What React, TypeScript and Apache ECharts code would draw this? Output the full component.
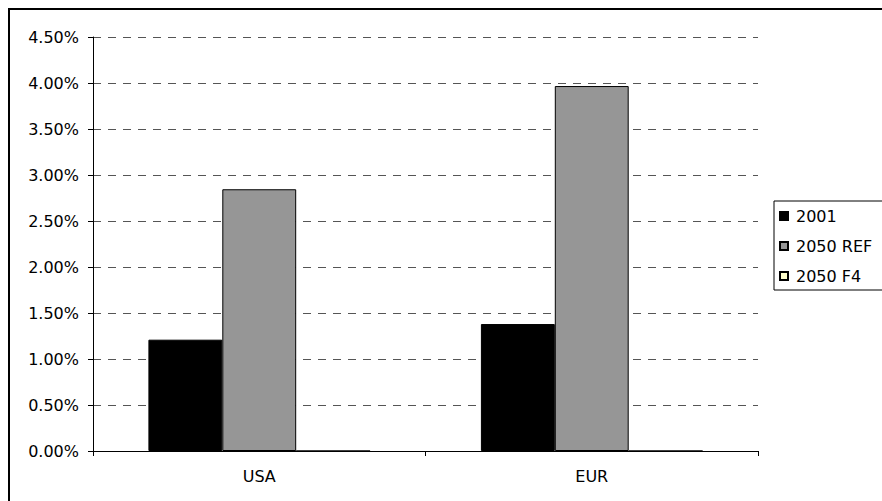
import React, { useEffect, useRef } from "react";
import * as echarts from "echarts";

const categories = ["USA", "EUR"];
const seriesNames = ["2001", "2050 REF", "2050 F4"];
const values2001 = [1.21, 1.38];
const valuesRef = [2.845, 3.967];
const valuesF4 = [0, 0];
const seriesColors = ["#000000", "#969696", "#FFFFCC"];

const FONT = "DejaVu Sans";

export default function App() {
  const ref = useRef<HTMLDivElement>(null);
  useEffect(() => {
    if (!ref.current) return;
    const chart = echarts.init(ref.current, undefined, { renderer: "svg" });
    const data = [values2001, valuesRef, valuesF4];
    chart.setOption({
      animation: false,
      backgroundColor: "#ffffff",
      textStyle: { fontFamily: FONT },
      grid: { left: 83, top: 27, width: 665, height: 414, containLabel: false },
      legend: {
        orient: "vertical",
        left: 764,
        top: 191,
        padding: [7, 50, 6, 5],
        itemGap: 14,
        itemWidth: 8,
        itemHeight: 8,
        borderColor: "#000",
        borderWidth: 1,
        backgroundColor: "#fff",
        icon: "rect",
        textStyle: { fontFamily: FONT, fontSize: 16, color: "#000", padding: [0, 0, 0, 3] },
        data: seriesNames,
      },
      xAxis: {
        type: "category",
        data: categories,
        axisLine: { lineStyle: { color: "#000", width: 1 } },
        axisTick: { show: true, length: 5, lineStyle: { color: "#000" } },
        axisLabel: { color: "#000", fontFamily: FONT, fontSize: 16, margin: 17 },
      },
      yAxis: {
        type: "value",
        min: 0,
        max: 4.5,
        interval: 0.5,
        axisLine: { show: true, lineStyle: { color: "#000", width: 1 } },
        axisTick: { show: true, length: 5, lineStyle: { color: "#000" } },
        axisLabel: {
          color: "#000",
          fontFamily: FONT,
          fontSize: 16,
          margin: 14,
          formatter: (v: number) => v.toFixed(2) + "%",
        },
        splitLine: { show: true, lineStyle: { color: "#555", type: [8, 7], width: 1 } },
      },
      series: seriesNames.map((name, i) => ({
        name,
        type: "bar",
        data: data[i],
        barGap: "0%",
        barCategoryGap: "33.33%",
        itemStyle: { color: seriesColors[i], borderColor: "#000", borderWidth: 1 },
      })),
    });
    return () => chart.dispose();
  }, []);
  return (
    <div
      style={{
        position: "fixed",
        left: 8,
        top: 8,
        width: 900,
        height: 520,
        border: "2px solid #000",
        boxSizing: "border-box",
        background: "#fff",
      }}
    >
      <div ref={ref} style={{ width: 896, height: 516 }} />
    </div>
  );
}
